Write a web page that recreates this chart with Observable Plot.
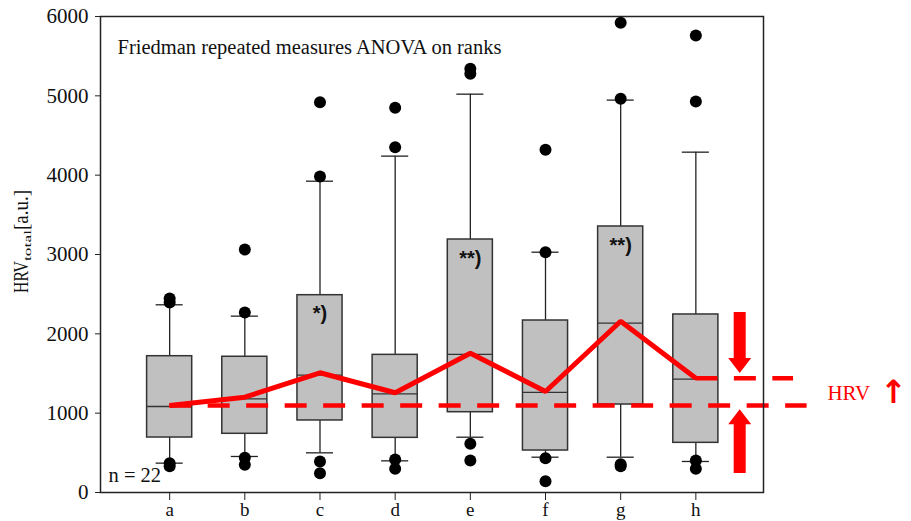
<!DOCTYPE html>
<html>
<head>
<meta charset="utf-8">
<script src="https://cdn.jsdelivr.net/npm/d3@7"></script>
<script src="https://cdn.jsdelivr.net/npm/@observablehq/plot@0.6"></script>
<style>
  html, body { margin: 0; padding: 0; background: white; }
  #chart svg { display: block; }
</style>
</head>
<body>
<div id="chart"></div>
<script>
// ---- data ----
const categories = ["a", "b", "c", "d", "e", "f", "g", "h"];
const q1 =          [693, 740, 908, 689, 1012, 529, 1109, 626];
const medians =     [1084, 1181, 1479, 1244, 1740, 1261, 2134, 1429];
const q3 =          [1718, 1711, 2487, 1735, 3189, 2168, 3353, 2244];
const whiskerLow =  [370, 454, 500, 399, 697, 445, 445, 391];
const whiskerHigh = [2366, 2223, 3924, 4240, 5021, 3029, 4946, 4290];
const means =       [1097, 1202, 1509, 1257, 1756, 1273, 2159, 1441];
const outliers = [
  [2445, 2395, 370, 330],
  [3063, 2269, 437, 349],
  [4920, 3983, 391, 243],
  [4849, 4353, 416, 298],
  [5341, 5278, 614, 403],
  [4320, 3029, 433, 143],
  [5921, 4962, 355, 330],
  [5761, 4929, 403, 298]
];
const starLabels = ["", "", "*)", "", "**)", "", "**)", ""];
const starValues = [null, null, 2256, null, 2950, null, 3113, null];
const yTicks = [0, 1000, 2000, 3000, 4000, 5000, 6000];
const titleText = "Friedman repeated measures ANOVA on ranks";
const nText = "n = 22";

// annotation anchors (in data units: x = category index, y = HRV)
const refLines = [
  {from: 0, to: 8.48, v: means[0]},
  {from: 7, to: 8.3, v: means[7]}
];
const bigArrows = [
  {x: 7.59, from: 2269, to: 1500},
  {x: 7.59, from: 240, to: 1042}
];
const hrvLabel = {x: 8.75, v: 1245, text: "HRV"};
const upGlyph = {x: 9.63, v: 1260, text: "↑"};

// ---- tables ----
const boxes = categories.map((c, i) => ({
  i, c, q1: q1[i], med: medians[i], q3: q3[i],
  lo: whiskerLow[i], hi: whiskerHigh[i], mean: means[i]
}));
const caps = boxes.flatMap(d => [{i: d.i, v: d.lo}, {i: d.i, v: d.hi}]);
const outlierRows = outliers.flatMap((vals, i) => vals.map(v => ({i, v})));
const starRows = starLabels.map((label, i) => ({i, label, v: starValues[i]})).filter(d => d.label);

const BOX = 0.3, CAP = 0.18;

function arrowMark(index, scales) {
  const g = d3.create("svg:g");
  for (const a of bigArrows) {
    const x = scales.x(a.x), y0 = scales.y(a.from), y1 = scales.y(a.to);
    const dir = Math.sign(y1 - y0);
    const hl = 15, hw = 11.5, sw = 6;
    const yb = y1 - dir * hl;
    const pts = [[x - sw, y0], [x - sw, yb], [x - hw, yb], [x, y1], [x + hw, yb], [x + sw, yb], [x + sw, y0]];
    g.append("path").attr("d", "M" + pts.map(p => p.join(",")).join("L") + "Z").attr("fill", "#ff0000");
  }
  return g.node();
}

const svg = Plot.plot({
  width: 911,
  height: 521,
  marginTop: 16,
  marginBottom: 29,
  marginLeft: 100,
  marginRight: 148,
  style: {fontFamily: "Liberation Serif", fontSize: "20px", color: "#111", background: "white"},
  x: {type: "linear", domain: [-0.92, 7.9]},
  y: {domain: [0, 6000]},
  marks: [
    Plot.ruleX(boxes, {x: "i", y1: "lo", y2: "hi", stroke: "#222", strokeWidth: 1.3}),
    Plot.rect(boxes, {x1: d => d.i - BOX, x2: d => d.i + BOX, y1: "q1", y2: "q3", fill: "#c0c0c0", stroke: "#333", strokeWidth: 1.5}),
    Plot.ruleY(boxes, {y: "med", x1: d => d.i - BOX, x2: d => d.i + BOX, stroke: "#333", strokeWidth: 1.3}),
    Plot.ruleY(caps, {y: "v", x1: d => d.i - CAP, x2: d => d.i + CAP, stroke: "#222", strokeWidth: 1.3}),
    Plot.dot(outlierRows, {x: "i", y: "v", r: 6, fill: "black", stroke: "none"}),
    Plot.text(starRows, {x: "i", y: "v", text: "label", fontFamily: "Liberation Sans", fontWeight: "bold", fontSize: 20, letterSpacing: 1.5, fill: "#111"}),
    Plot.ruleY(refLines, {y: "v", x1: "from", x2: "to", stroke: "#ff0000", strokeWidth: 4.5, strokeDasharray: "22,16.5"}),
    Plot.line(boxes, {x: "i", y: "mean", stroke: "#ff0000", strokeWidth: 5, strokeLinecap: "butt", strokeLinejoin: "miter"}),
    arrowMark,
    Plot.text([hrvLabel], {x: "x", y: "v", text: "text", textAnchor: "start", fill: "#ff0000", fontSize: 21}),
    Plot.text([upGlyph], {x: "x", y: "v", text: "text", fill: "#ff0000", fontSize: 32, fontWeight: "bold", fontFamily: "DejaVu Sans"}),
    Plot.text([titleText], {frameAnchor: "top-left", dx: 17, dy: 23, textAnchor: "start", fontSize: 20.5}),
    Plot.text([nText], {frameAnchor: "bottom-left", dx: 8, dy: -11, textAnchor: "start", fontSize: 20.5}),
    Plot.frame({stroke: "#222", strokeWidth: 1.5}),
    Plot.axisY({ticks: yTicks, tickFormat: d => String(d), tickSize: 5, tickPadding: 7, fontSize: 21, label: null, stroke: "#222"}),
    Plot.axisX({ticks: d3.range(categories.length), tickFormat: i => categories[i], tickSize: 8, tickPadding: 2, fontSize: 19, label: null, stroke: "#222"})
  ]
});

// y-axis title with subscript
const lab = d3.select(svg).append("text")
  .attr("transform", "translate(28,293) rotate(-90)")
  .attr("text-anchor", "start")
  .attr("fill", "#111")
  .style("font-family", "Liberation Serif");
lab.append("tspan").attr("font-size", 22).attr("textLength", 32).attr("lengthAdjust", "spacingAndGlyphs").text("HRV");
lab.append("tspan").attr("font-size", 11).attr("dy", 3).attr("textLength", 31).attr("lengthAdjust", "spacingAndGlyphs").text("total");
lab.append("tspan").attr("font-size", 21).attr("dy", -3).attr("textLength", 40).attr("lengthAdjust", "spacingAndGlyphs").text("[a.u.]");

document.getElementById("chart").appendChild(svg);
</script>
</body>
</html>
